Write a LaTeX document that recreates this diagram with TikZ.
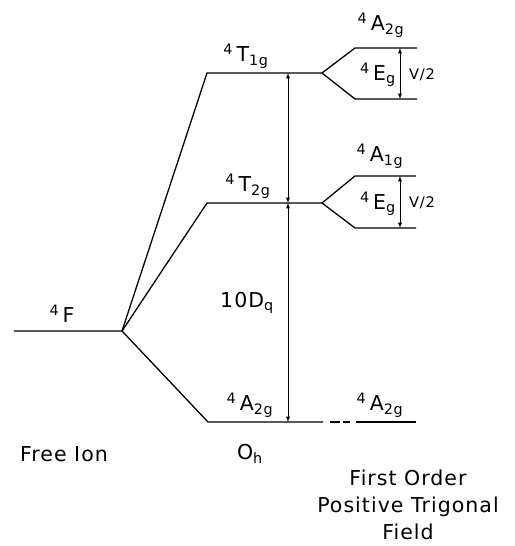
\documentclass[tikz,border=0pt]{standalone}
\usepackage{fontspec}
\setmainfont[LetterSpace=5]{DejaVu Sans}
\begin{document}
\begin{tikzpicture}[x=0.03cm,y=-0.03cm,
  level/.style={line width=1.1pt},
  gap/.style={<->,>=latex,line width=0.6pt},
  lab/.style={font=\fontsize{17.5}{23}\selectfont,inner sep=0pt}]
\useasboundingbox (0,0) rectangle (515,546);
\coordinate (F0) at (14,331);
\coordinate (F1) at (122,331);
\coordinate (T1a) at (207,73);
\coordinate (T1b) at (322,73);
\coordinate (T2a) at (207,203);
\coordinate (T2b) at (322,203);
\coordinate (A2a) at (208,422);
\coordinate (A2b) at (323,422);
\coordinate (A2t) at (355,48);
\coordinate (A2te) at (417,48);
\coordinate (E1) at (355,99);
\coordinate (E1e) at (417,99);
\coordinate (A1) at (355,176);
\coordinate (A1e) at (416,176);
\coordinate (E2) at (355,228);
\coordinate (E2e) at (416,228);
\coordinate (A2c) at (356,422);
\coordinate (A2ce) at (416,422);
\draw[level] (F0) -- (F1) -- (T1a) -- (T1b) -- (A2t) -- (A2te);
\draw[level] (T1b) -- (E1) -- (E1e);
\draw[level] (F1) -- (T2a) -- (T2b) -- (A1) -- (A1e);
\draw[level] (T2b) -- (E2) -- (E2e);
\draw[level] (F1) -- (A2a) -- (A2b);
\draw[level] (A2c) -- (A2ce);
\draw[level] (330,422) -- (340,422);
\draw[level] (343,422) -- (350,422);
\coordinate (D1) at (288,73);
\coordinate (D2) at (288,203);
\coordinate (D3) at (288,422);
\draw[gap] (D1) -- (D2);
\draw[gap] (D2) -- (D3);
\coordinate (V1) at (400,48);
\coordinate (V2) at (400,99);
\coordinate (V3) at (400,176);
\coordinate (V4) at (400,228);
\draw[gap] (V1) -- (V2);
\draw[gap] (V3) -- (V4);
\node[lab] (lF) at (62,314) {\textsuperscript{4}\,F};
\node[lab] (lT1) at (246,56) {\textsuperscript{4}\,T\textsubscript{1g}};
\node[lab] (lT2) at (248,186) {\textsuperscript{4}\,T\textsubscript{2g}};
\node[lab] (lA2) at (250,405) {\textsuperscript{4}\,A\textsubscript{2g}};
\node[lab] (lA2t) at (381,25) {\textsuperscript{4}\,A\textsubscript{2g}};
\node[lab] (lE1) at (378,75) {\textsuperscript{4}\,E\textsubscript{g}};
\node[lab] (lA1) at (380,156) {\textsuperscript{4}\,A\textsubscript{1g}};
\node[lab] (lE2) at (378,204) {\textsuperscript{4}\,E\textsubscript{g}};
\node[lab] (lA2r) at (380,405) {\textsuperscript{4}\,A\textsubscript{2g}};
\node[lab,font=\fontsize{12.5}{15}\selectfont] (lV1) at (422,75) {V/2};
\node[lab,font=\fontsize{12.5}{15}\selectfont] (lV2) at (422,203) {V/2};
\node[lab] (lD) at (247,303) {10D\textsubscript{q}};
\node[lab] (free) at (64,454) {Free Ion};
\node[lab] (oh) at (250,454) {O\textsubscript{h}};
\node[lab,align=center] (trig) at (408,505) {First Order\\Positive Trigonal\\Field};
\end{tikzpicture}
\end{document}
